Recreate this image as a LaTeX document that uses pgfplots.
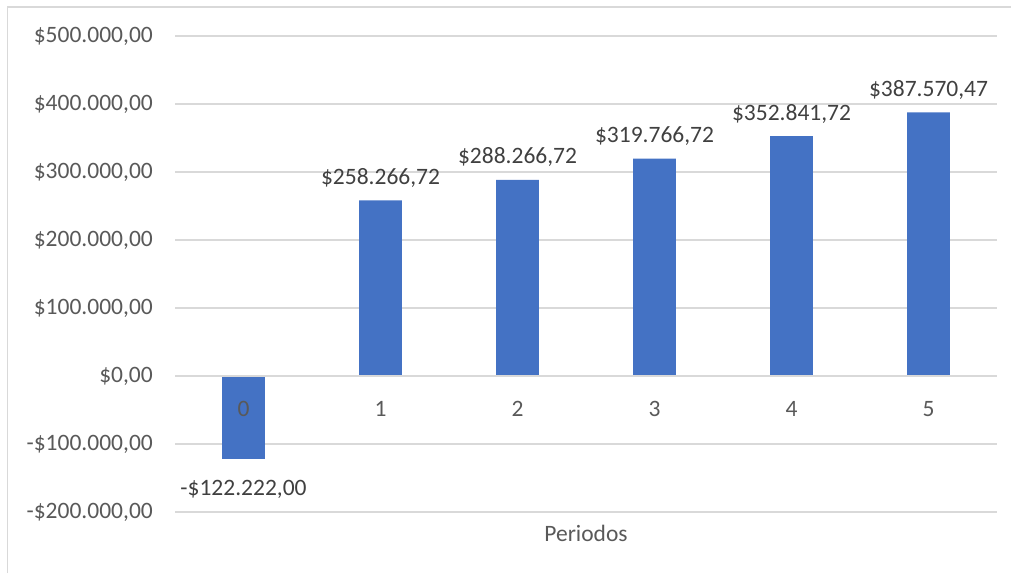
\documentclass[border=0pt]{standalone}
\usepackage{fontspec}
\setmainfont{Carlito}
\usepackage{pgfplots}
\pgfplotsset{compat=1.18}
\definecolor{barblue}{HTML}{4472C4}
\definecolor{axtext}{HTML}{595959}
\definecolor{lbltext}{HTML}{404040}
\definecolor{gridc}{HTML}{D9D9D9}
\begin{document}
\begin{tikzpicture}[font=\fontsize{23.5}{28}\selectfont]
\path[use as bounding box] (0,0) rectangle (1011pt,573pt);
\draw[gridc, line width=1.6pt] (7.3pt,0) -- (7.3pt,565.7pt) -- (1011pt,565.7pt);
\begin{axis}[
  at={(175pt,61pt)}, anchor=south west,
  scale only axis, width=822pt, height=476pt,
  xmin=-0.5, xmax=5.5, ymin=-200000, ymax=500000,
  scaled y ticks=false,
  axis line style={draw=none},
  major tick length=0pt,
  xtick={0,1,2,3,4,5}, xticklabels={},
  ytick={-200000,-100000,0,100000,200000,300000,400000,500000},
  yticklabels={{-\$200.000,00},{-\$100.000,00},{\$0,00},{\$100.000,00},{\$200.000,00},{\$300.000,00},{\$400.000,00},{\$500.000,00}},
  yticklabel style={anchor=east, inner sep=0pt, xshift=-22pt, text=axtext},
  ymajorgrids, grid style={gridc, line width=1.3pt},
  ybar, bar width=42.6pt, bar shift=0pt,
  clip=false,
  xlabel={Periodos},
  xlabel style={at={(axis description cs:0.5,0)}, anchor=base, yshift=-29pt, text=axtext, inner sep=0pt},
]
\addplot[fill=barblue, draw=none,
  nodes near coords, point meta=explicit symbolic,
  every node near coord/.style={anchor=base, yshift=-36pt, text=lbltext, inner sep=0pt}]
  table[meta=label] {
x y label
0 -122222.00 {-\$122.222,00}
};
\addplot[fill=barblue, draw=none,
  nodes near coords, point meta=explicit symbolic,
  every node near coord/.style={anchor=base, yshift=16pt, text=lbltext, inner sep=0pt}]
  table[meta=label] {
x y label
1 258266.72 {\$258.266,72}
2 288266.72 {\$288.266,72}
3 319766.72 {\$319.766,72}
4 352841.72 {\$352.841,72}
5 387570.47 {\$387.570,47}
};
\draw[gridc, line width=1.3pt] (axis cs:-0.5,0) -- (axis cs:5.5,0);
\node[anchor=base, text=axtext, inner sep=0pt] at ([yshift=-40pt]axis cs:0,0) {0};
\node[anchor=base, text=axtext, inner sep=0pt] at ([yshift=-40pt]axis cs:1,0) {1};
\node[anchor=base, text=axtext, inner sep=0pt] at ([yshift=-40pt]axis cs:2,0) {2};
\node[anchor=base, text=axtext, inner sep=0pt] at ([yshift=-40pt]axis cs:3,0) {3};
\node[anchor=base, text=axtext, inner sep=0pt] at ([yshift=-40pt]axis cs:4,0) {4};
\node[anchor=base, text=axtext, inner sep=0pt] at ([yshift=-40pt]axis cs:5,0) {5};
\end{axis}
\end{tikzpicture}
\end{document}
